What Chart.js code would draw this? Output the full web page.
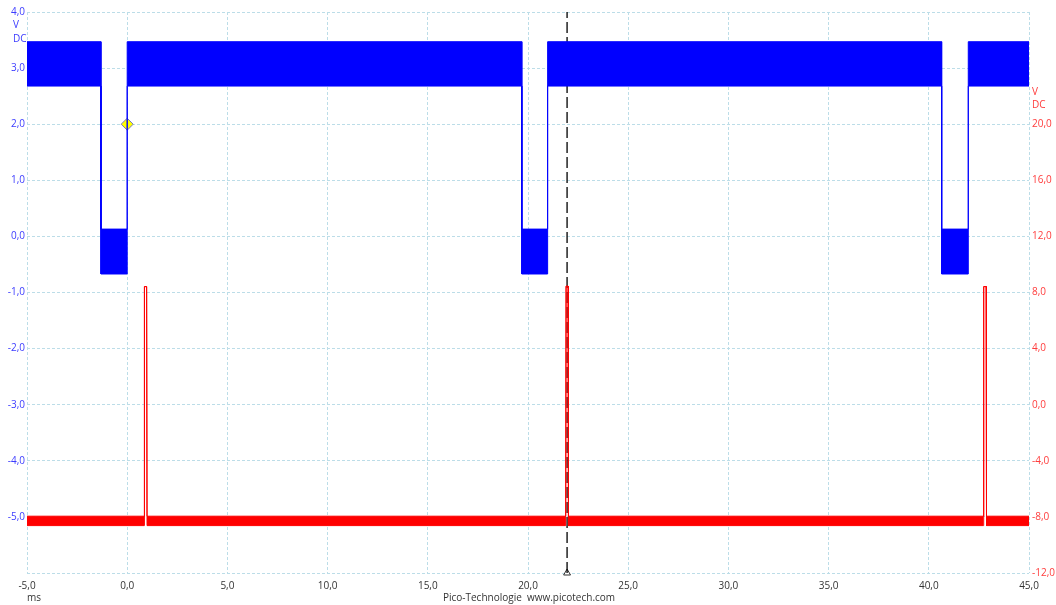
<!DOCTYPE html>
<html>
<head>
<meta charset="utf-8">
<title>Pico scope trace</title>
<script src="https://cdn.jsdelivr.net/npm/chart.js@4.4.0/dist/chart.umd.min.js"></script>
<style>
  body { margin: 0; background: #ffffff; }
  #scopeChart { display: block; }
</style>
</head>
<body>
<canvas id="scopeChart" width="1056" height="605"></canvas>
<script>
// Channel A (blue, left axis) - noise envelope of the square wave, in V
var blueTime = [-5, -1.31, -1.31, 0, 0, 19.69, 19.69, 20.98, 20.98, 40.64, 40.64, 41.97, 41.97, 45];
var blueMax  = [3.47, 3.47, 0.13, 0.13, 3.47, 3.47, 0.13, 0.13, 3.47, 3.47, 0.13, 0.13, 3.47, 3.47];
var blueMin  = [2.68, 2.68, -0.67, -0.67, 2.68, 2.68, -0.67, -0.67, 2.68, 2.68, -0.67, -0.67, 2.68, 2.68];

// Channel B (red, right axis) - baseline noise envelope with three short pulses, in V
var redTime = [-5, 0.84, 0.86, 0.97, 0.99, 21.88, 21.9, 22.0, 22.02, 42.72, 42.74, 42.86, 42.88, 45];
var redMax  = [-7.95, -7.95, 8.42, 8.42, -7.95, -7.95, 8.45, 8.45, -7.95, -7.95, 8.42, 8.42, -7.95, -7.95];
var redMin  = [-8.62, -8.62, 8.42, 8.42, -8.62, -8.62, 8.45, 8.45, -8.62, -8.62, 8.42, 8.42, -8.62, -8.62];

// trigger marker and ruler
var triggerPoint = { x: 0, y: 2.0 };
var rulerTime = 21.95;

function toPoints(xs, ys) {
    return xs.map(function(x, i) { return { x: x, y: ys[i] }; });
}

function comma(v) {
    return v.toFixed(1).replace('.', ',');
}

var gridColor = '#bcdde8';
var fontFamily = '"Open Sans", "Noto Sans", sans-serif';

// extra labels: units, footer
var labelsPlugin = {
    id: 'scopeLabels',
    afterDraw: function(chart) {
        var ctx = chart.ctx;
        ctx.save();
        ctx.font = '10px ' + fontFamily;
        ctx.textBaseline = 'middle';
        ctx.textAlign = 'left';
        ctx.fillStyle = '#3c3cff';
        ctx.fillText('V', 13, 25);
        ctx.fillText('DC', 13, 39);
        ctx.fillStyle = '#ff3c3c';
        ctx.fillText('V', 1032, 92);
        ctx.fillText('DC', 1032, 105);
        ctx.fillStyle = '#333333';
        ctx.textAlign = 'center';
        ctx.fillText('ms', 34, 598);
        ctx.fillText('Pico-Technologie  www.picotech.com', 529, 598);
        ctx.restore();
    }
};

var ctx = document.getElementById('scopeChart').getContext('2d');

var scopeChart = new Chart(ctx, {
    type: 'line',
    data: {
        datasets: [
            {
                data: toPoints(blueTime, blueMax),
                yAxisID: 'yA',
                borderColor: '#0000ff',
                backgroundColor: '#0000ff',
                borderWidth: 1,
                pointRadius: 0,
                fill: '+1'
            },
            {
                data: toPoints(blueTime, blueMin),
                yAxisID: 'yA',
                borderColor: '#0000ff',
                borderWidth: 1,
                pointRadius: 0,
                fill: false
            },
            {
                data: toPoints(redTime, redMax),
                yAxisID: 'yB',
                borderColor: '#ff0000',
                backgroundColor: '#ff0000',
                borderWidth: 1,
                pointRadius: 0,
                fill: '+1'
            },
            {
                data: toPoints(redTime, redMin),
                yAxisID: 'yB',
                borderColor: '#ff0000',
                borderWidth: 1,
                pointRadius: 0,
                fill: false
            },
            {
                // ruler line
                data: [{ x: rulerTime, y: -6 }, { x: rulerTime, y: 4 }],
                yAxisID: 'yA',
                borderColor: '#000000',
                borderWidth: 1.3,
                borderDash: [11, 4],
                pointRadius: 0,
                fill: false
            },
            {
                // ruler handle at the bottom
                type: 'scatter',
                data: [{ x: rulerTime, y: -6 }],
                yAxisID: 'yA',
                pointStyle: 'triangle',
                pointRadius: 4,
                backgroundColor: '#ffffff',
                borderColor: '#333333',
                borderWidth: 1,
                clip: false
            },
            {
                // trigger marker
                type: 'scatter',
                data: [triggerPoint],
                yAxisID: 'yA',
                pointStyle: 'rectRot',
                pointRadius: 6,
                backgroundColor: '#ffff00',
                borderColor: '#7878c0',
                borderWidth: 1
            }
        ]
    },
    options: {
        responsive: false,
        animation: false,
        layout: { padding: { top: 12, left: 0, right: 0, bottom: 0 } },
        plugins: {
            legend: { display: false },
            tooltip: { enabled: false }
        },
        scales: {
            x: {
                type: 'linear',
                min: -5,
                max: 45,
                border: { display: false, dash: [3, 2] },
                grid: { color: gridColor, drawTicks: false },
                ticks: {
                    stepSize: 5,
                    autoSkip: false,
                    maxRotation: 0,
                    padding: 7,
                    color: '#333333',
                    font: { family: fontFamily, size: 10 },
                    callback: function(v) { return comma(v); }
                },
                afterFit: function(scale) { scale.height = 32; }
            },
            yA: {
                position: 'left',
                min: -6,
                max: 4,
                border: { display: false, dash: [3, 2] },
                grid: { color: gridColor, drawTicks: false },
                ticks: {
                    stepSize: 1,
                    autoSkip: false,
                    padding: 2,
                    color: '#3c3cff',
                    font: { family: fontFamily, size: 10 },
                    callback: function(v) { return v === -6 ? '' : comma(v); }
                },
                afterFit: function(scale) { scale.width = 27; }
            },
            yB: {
                position: 'right',
                min: -12,
                max: 28,
                border: { display: false },
                grid: { drawOnChartArea: false, drawTicks: false },
                ticks: {
                    stepSize: 4,
                    autoSkip: false,
                    padding: 3,
                    color: '#ff3c3c',
                    font: { family: fontFamily, size: 10 },
                    callback: function(v) { return v > 20 ? '' : comma(v); }
                },
                afterFit: function(scale) { scale.width = 27; }
            }
        }
    },
    plugins: [labelsPlugin]
});
</script>
</body>
</html>
